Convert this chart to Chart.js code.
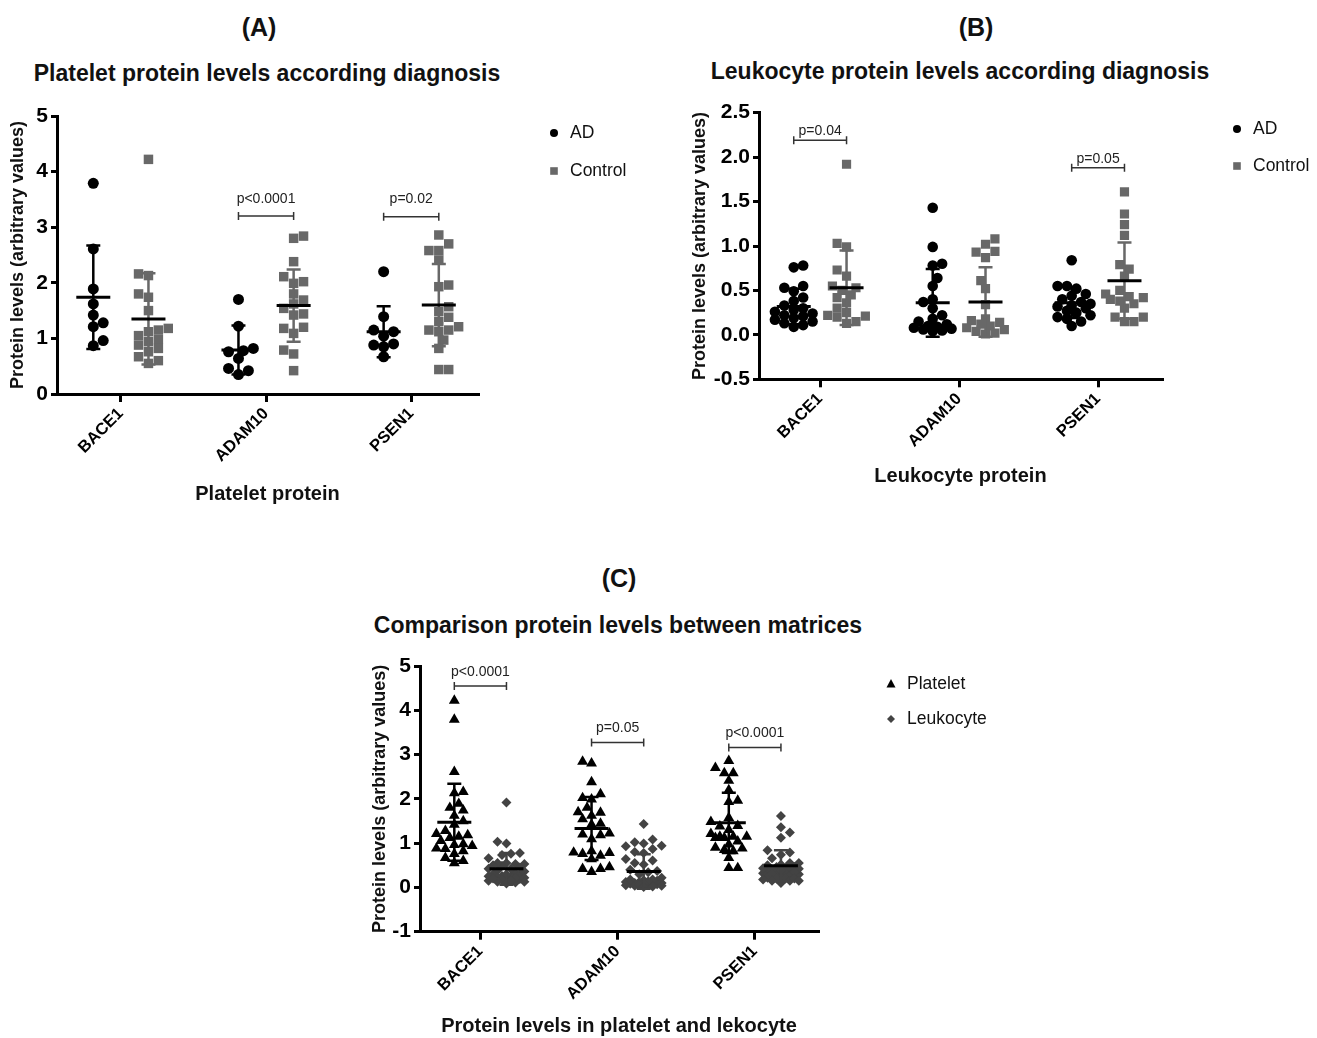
<!DOCTYPE html>
<html>
<head>
<meta charset="utf-8">
<script src="https://cdn.jsdelivr.net/npm/chart.js@4.4.0/dist/chart.umd.min.js"></script>
<style>
    body { margin: 0; background: #fff; width: 1317px; height: 1038px; position: relative; overflow: hidden; font-family: "Liberation Sans", Arial, sans-serif; }
    .hd { position: absolute; transform: translate(-50%, -50%); font-weight: bold; white-space: nowrap; color: #111; }
    .panel { font-size: 25px; }
    .sub { font-size: 23px; }
    canvas { position: absolute; }
</style>
</head>
<body>
<div class="hd panel" style="left:259px; top:27px">(A)</div>
<div class="hd sub" style="left:267px; top:73px">Platelet protein levels according diagnosis</div>
<div class="hd panel" style="left:976px; top:27px">(B)</div>
<div class="hd sub" style="left:960px; top:71px">Leukocyte protein levels according diagnosis</div>
<div class="hd panel" style="left:619px; top:578px">(C)</div>
<div class="hd sub" style="left:618px; top:625px">Comparison protein levels between matrices</div>

<canvas id="chartA" width="680" height="420" style="left:0; top:100px"></canvas>
<canvas id="chartB" width="637" height="400" style="left:680px; top:96px"></canvas>
<canvas id="chartC" width="700" height="388" style="left:350px; top:650px"></canvas>

<script>
const proteins = ["BACE1", "ADAM10", "PSEN1"];

// platelet values (panel A), one list per protein
const adPlatelet = [
    [3.79, 2.61, 1.89, 1.62, 1.42, 1.28, 1.21, 0.96, 0.87],
    [1.70, 1.22, 0.82, 0.78, 0.76, 0.64, 0.46, 0.42, 0.35],
    [2.20, 1.39, 1.15, 1.12, 1.04, 0.90, 0.88, 0.85, 0.67]
];
const controlPlatelet = [
    [4.22, 2.16, 2.13, 1.80, 1.74, 1.50, 1.18, 1.15, 1.12, 1.05, 0.98, 0.94, 0.88, 0.82, 0.76, 0.67, 0.60, 0.55],
    [2.84, 2.80, 2.38, 2.11, 2.02, 1.99, 1.80, 1.69, 1.62, 1.54, 1.44, 1.42, 1.20, 1.18, 1.09, 0.79, 0.72, 0.42],
    [2.86, 2.70, 2.58, 2.58, 2.41, 1.96, 1.93, 1.57, 1.48, 1.38, 1.30, 1.21, 1.15, 1.15, 1.12, 0.97, 0.82, 0.44, 0.44]
];

// leukocyte values (panel B)
const adLeukocyte = [
    [0.78, 0.76, 0.55, 0.53, 0.49, 0.42, 0.38, 0.33, 0.30, 0.28, 0.26, 0.24, 0.22, 0.21, 0.19, 0.17, 0.15, 0.13, 0.11, 0.09],
    [1.43, 0.99, 0.80, 0.78, 0.64, 0.55, 0.40, 0.37, 0.30, 0.22, 0.18, 0.15, 0.12, 0.10, 0.09, 0.08, 0.07, 0.06, 0.05, 0.04],
    [0.84, 0.55, 0.55, 0.52, 0.46, 0.44, 0.40, 0.37, 0.35, 0.33, 0.32, 0.30, 0.27, 0.25, 0.22, 0.20, 0.18, 0.15, 0.10]
];
const controlLeukocyte = [
    [1.92, 1.03, 0.99, 0.73, 0.66, 0.55, 0.53, 0.50, 0.45, 0.42, 0.36, 0.30, 0.25, 0.22, 0.21, 0.20, 0.15, 0.13],
    [1.08, 1.02, 0.94, 0.93, 0.87, 0.61, 0.52, 0.34, 0.18, 0.16, 0.14, 0.12, 0.10, 0.08, 0.06, 0.04, 0.02, 0.01],
    [1.61, 1.36, 1.24, 1.12, 0.79, 0.74, 0.66, 0.50, 0.46, 0.43, 0.42, 0.40, 0.38, 0.35, 0.30, 0.20, 0.20, 0.15, 0.15]
];

// mean and SD as plotted
const adPlateletMean = [1.74, 0.79, 1.12];
const adPlateletSd = [0.93, 0.44, 0.46];
const controlPlateletMean = [1.35, 1.59, 1.60];
const controlPlateletSd = [0.82, 0.65, 0.74];
const adLeukocyteMean = [0.32, 0.36, 0.36];
const adLeukocyteSd = [0.20, 0.38, 0.17];
const controlLeukocyteMean = [0.53, 0.37, 0.61];
const controlLeukocyteSd = [0.42, 0.39, 0.43];
const plateletMean = [1.47, 1.33, 1.46];
const plateletSd = [0.87, 0.71, 0.68];
const leukocyteMean = [0.42, 0.36, 0.49];
const leukocyteSd = [0.36, 0.39, 0.35];

// p values
const pA = [{ cat: 1, y: 3.20, text: "p<0.0001" }, { cat: 2, y: 3.19, text: "p=0.02" }];
const pB = [{ cat: 0, y: 2.19, text: "p=0.04" }, { cat: 2, y: 1.88, text: "p=0.05" }];
const pC = [{ cat: 0, y: 4.55, text: "p<0.0001" }, { cat: 1, y: 3.27, text: "p=0.05" }, { cat: 2, y: 3.16, text: "p<0.0001" }];

// platelet / leukocyte in panel C are the pooled groups
const plateletAll = proteins.map((p, i) => adPlatelet[i].concat(controlPlatelet[i]));
const leukocyteAll = proteins.map((p, i) => adLeukocyte[i].concat(controlLeukocyte[i]));

const FONT = "'Liberation Sans', Arial, sans-serif";
const GRAY = "#686868";
const DARK = "#434343";
const SHIFT = 0.19;

// spread points sideways, overlap allowed, kept narrow
function swarmOffsets(values, pxPerY, d) {
    const order = values.map((v, i) => i).sort((a, b) => values[a] - values[b]);
    const placed = [];
    const offs = [];
    const step = d * 0.45;
    order.forEach(i => {
        const py = values[i] * pxPerY;
        let best = 0, bestDist = -1;
        for (let k = 0; k <= 4; k++) {
            const cands = k === 0 ? [0] : (placed.length % 2 ? [k * step, -k * step] : [-k * step, k * step]);
            for (const c of cands) {
                const dist = placed.reduce((m, p) => Math.min(m, Math.hypot(p.x - c, p.y - py)), Infinity);
                if (dist >= d * 0.8) { best = c; bestDist = Infinity; break; }
                if (dist > bestDist) { best = c; bestDist = dist; }
            }
            if (bestDist === Infinity) break;
        }
        placed.push({ x: best, y: py });
        offs[i] = best;
    });
    return offs;
}

function points(groups, shift, pxPerY, pxPerX, d) {
    const out = [];
    groups.forEach((vals, i) => {
        const offs = swarmOffsets(vals, pxPerY, d);
        vals.forEach((v, j) => out.push({ x: i + shift + offs[j] / pxPerX, y: v }));
    });
    return out;
}

function drawMarker(ctx, style, x, y, r) {
    ctx.beginPath();
    if (style === "circle") {
        ctx.arc(x, y, r, 0, Math.PI * 2);
    } else if (style === "rect") {
        ctx.rect(x - r, y - r, 2 * r, 2 * r);
    } else if (style === "triangle") {
        ctx.moveTo(x, y - r * 1.1);
        ctx.lineTo(x + r, y + r * 0.8);
        ctx.lineTo(x - r, y + r * 0.8);
        ctx.closePath();
    } else {
        ctx.moveTo(x, y - r);
        ctx.lineTo(x + r, y);
        ctx.lineTo(x, y + r);
        ctx.lineTo(x - r, y);
        ctx.closePath();
    }
    ctx.fill();
}

// mean/SD bars, p value brackets and the legend
function makeDecor(brackets, textGap, legendPos) {
    return {
        id: "decor",
        afterDatasetsDraw(chart) {
            const { ctx, chartArea } = chart;
            const x = chart.scales.x;
            const y = chart.scales.y;
            ctx.save();
            chart.data.datasets.forEach(ds => {
                ds.means.forEach((m, i) => {
                    const cx = x.getPixelForValue(i + ds.shift);
                    const top = y.getPixelForValue(m + ds.sds[i]);
                    const bot = y.getPixelForValue(m - ds.sds[i]);
                    const my = y.getPixelForValue(m);
                    ctx.strokeStyle = ds.barColor;
                    ctx.lineWidth = 2.5;
                    ctx.beginPath();
                    ctx.moveTo(cx, top); ctx.lineTo(cx, bot);
                    ctx.moveTo(cx - 7, top); ctx.lineTo(cx + 7, top);
                    ctx.moveTo(cx - 7, bot); ctx.lineTo(cx + 7, bot);
                    ctx.stroke();
                    ctx.strokeStyle = "#000";
                    ctx.lineWidth = 3;
                    ctx.beginPath();
                    ctx.moveTo(cx - 17, my); ctx.lineTo(cx + 17, my);
                    ctx.stroke();
                });
            });

            ctx.strokeStyle = "#333";
            ctx.fillStyle = "#222";
            ctx.lineWidth = 1.5;
            ctx.font = "14px " + FONT;
            ctx.textAlign = "center";
            ctx.textBaseline = "middle";
            brackets.forEach(b => {
                const x1 = x.getPixelForValue(b.cat - SHIFT);
                const x2 = x.getPixelForValue(b.cat + SHIFT);
                const by = y.getPixelForValue(b.y);
                ctx.beginPath();
                ctx.moveTo(x1, by); ctx.lineTo(x2, by);
                ctx.moveTo(x1, by - 4); ctx.lineTo(x1, by + 4);
                ctx.moveTo(x2, by - 4); ctx.lineTo(x2, by + 4);
                ctx.stroke();
                ctx.fillText(b.text, (x1 + x2) / 2, by - textGap);
            });

            ctx.font = "17.5px " + FONT;
            ctx.textAlign = "left";
            chart.data.datasets.forEach((ds, k) => {
                const lx = chartArea.right + legendPos.dx;
                const ly = chartArea.top + legendPos.dy + k * legendPos.gap;
                ctx.fillStyle = ds.backgroundColor;
                drawMarker(ctx, ds.pointStyle, lx, ly, ds.legendSize);
                ctx.fillStyle = "#111";
                ctx.fillText(ds.label, lx + 16, ly);
            });
            ctx.restore();
        }
    };
}

function makeScales(cfg) {
    return {
        x: {
            type: "linear",
            min: -0.44,
            max: 2.46,
            afterBuildTicks: s => { s.ticks = proteins.map((p, i) => ({ value: i })); },
            afterFit: s => { s.height = cfg.xHeight; },
            ticks: {
                callback: v => proteins[v],
                autoSkip: false,
                minRotation: 45,
                maxRotation: 45,
                padding: 2,
                color: "#000",
                font: { family: FONT, size: 16.5, weight: "bold" }
            },
            grid: { drawOnChartArea: false, drawTicks: true, tickLength: 8, color: "#000", lineWidth: 3 },
            border: { color: "#000", width: 3 },
            title: { display: true, text: cfg.xTitle, color: "#111", padding: 0, font: { family: FONT, size: 20, weight: "bold" } }
        },
        y: {
            min: cfg.yMin,
            max: cfg.yMax,
            afterFit: s => { s.width = cfg.yWidth; },
            ticks: {
                stepSize: cfg.yStep,
                callback: v => v.toFixed(cfg.yDec),
                padding: 3,
                color: "#000",
                font: { family: FONT, size: 21, weight: "bold" }
            },
            grid: { drawOnChartArea: false, drawTicks: true, tickLength: 6, color: "#000", lineWidth: 3 },
            border: { color: "#000", width: 3 },
            title: {
                display: true,
                text: "Protein levels (arbitrary values)",
                color: "#111",
                padding: { top: cfg.yTitlePad, bottom: 0 },
                font: { family: FONT, size: 18, weight: "bold" }
            }
        }
    };
}

function dataset(label, groups, shift, means, sds, style, radius, color, barColor, legendSize, px) {
    return {
        label: label,
        data: points(groups, shift, px.y, px.x, px.d),
        pointStyle: style,
        pointRadius: radius,
        backgroundColor: color,
        borderWidth: 0,
        showLine: false,
        shift: shift,
        means: means,
        sds: sds,
        barColor: barColor,
        legendSize: legendSize
    };
}

function build(id, datasets, scaleCfg, padding, brackets, textGap, legendPos) {
    new Chart(document.getElementById(id), {
        type: "scatter",
        data: { datasets: datasets },
        options: {
            responsive: false,
            animation: false,
            events: [],
            layout: { padding: padding },
            plugins: { legend: { display: false }, tooltip: { enabled: false } },
            scales: makeScales(scaleCfg)
        },
        plugins: [makeDecor(brackets, textGap, legendPos)]
    });
}

const pxA = { y: 55.6, x: 145, d: 11 };
const pxB = { y: 89, x: 139.5, d: 10.5 };
const pxC = { y: 44.2, x: 138, d: 10 };

build("chartA", [
    dataset("AD", adPlatelet, -SHIFT, adPlateletMean, adPlateletSd, "circle", 5.5, "#000", "#000", 4, pxA),
    dataset("Control", controlPlatelet, SHIFT, controlPlateletMean, controlPlateletSd, "rect", 6.7, GRAY, GRAY, 3.8, pxA)
], { xHeight: 112, xTitle: "Platelet protein", yMin: 0, yMax: 5, yStep: 1, yDec: 0, yWidth: 57, yTitlePad: 7.2 },
   { top: 16, right: 202, bottom: 14, left: 0 }, pA, 17, { dx: 76, dy: 17, gap: 38 });

build("chartB", [
    dataset("AD", adLeukocyte, -SHIFT, adLeukocyteMean, adLeukocyteSd, "circle", 5.3, "#000", "#000", 4, pxB),
    dataset("Control", controlLeukocyte, SHIFT, controlLeukocyteMean, controlLeukocyteSd, "rect", 6.5, GRAY, GRAY, 3.8, pxB)
], { xHeight: 108.7, xTitle: "Leukocyte protein", yMin: -0.5, yMax: 2.5, yStep: 0.5, yDec: 1, yWidth: 79, yTitlePad: 9.2 },
   { top: 16.7, right: 155, bottom: 8, left: 0 }, pB, 9, { dx: 75, dy: 16.3, gap: 37 });

build("chartC", [
    dataset("Platelet", plateletAll, -SHIFT, plateletMean, plateletSd, "triangle", 6.3, "#000", "#000", 4.5, pxC),
    dataset("Leukocyte", leukocyteAll, SHIFT, leukocyteMean, leukocyteSd, "rectRot", 5, DARK, DARK, 4, pxC)
], { xHeight: 106.3, xTitle: "Protein levels in platelet and lekocyte", yMin: -1, yMax: 5, yStep: 1, yDec: 0, yWidth: 70, yTitlePad: 19.2 },
   { top: 16, right: 232, bottom: 0, left: 0 }, pC, 14, { dx: 73, dy: 18, gap: 35 });
</script>
</body>
</html>
